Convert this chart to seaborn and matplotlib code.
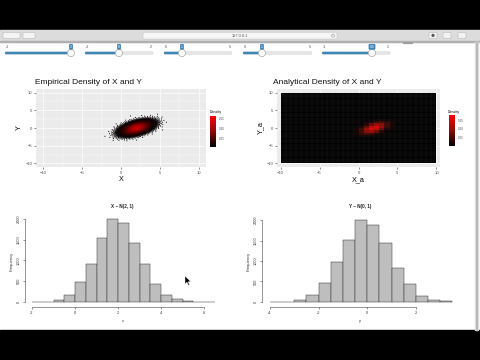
import numpy as np
import pandas as pd
import matplotlib
matplotlib.use("Agg")
import matplotlib.pyplot as plt
import seaborn as sns
from matplotlib.colors import LinearSegmentedColormap, Normalize
from matplotlib.patches import Rectangle, Circle, FancyBboxPatch, Polygon
import matplotlib.cm as cm

plt.rcParams['font.family'] = ['Liberation Sans', 'DejaVu Sans']

# ---------------- data ----------------
mu_x, mu_y = 2.0, 0.0
sd_x, sd_y = 1.0, 1.0
rho = 0.5
n_samples = 10000

axis_ticks = [-10, -5, 0, 5, 10]
density_ticks = [0.05, 0.10, 0.15]
density_labels = ["0.05", "0.10", "0.15"]

# histogram of X (bin width 0.5)
hist_x_edges = [-2.0, -1.5, -1.0, -0.5, 0.0, 0.5, 1.0, 1.5, 2.0, 2.5, 3.0,
                3.5, 4.0, 4.5, 5.0, 5.5, 6.0, 6.5]
hist_x_counts = [2, 6, 60, 180, 470, 925, 1545, 1995, 1910, 1410, 905,
                 425, 160, 64, 24, 8, 2]
hist_x_ticks = [-2, 0, 2, 4, 6]

# histogram of Y (bin width 0.5)
hist_y_edges = [-4.0, -3.5, -3.0, -2.5, -2.0, -1.5, -1.0, -0.5, 0.0, 0.5,
                1.0, 1.5, 2.0, 2.5, 3.0, 3.5]
hist_y_counts = [2, 12, 56, 176, 456, 976, 1512, 1992, 1880, 1440, 832,
                 440, 152, 56, 20]
hist_y_ticks = [-4, -2, 0, 2]
freq_ticks = [0, 500, 1000, 1500, 2000]

# slider labels
slider_min = ["-2", "-2", "0", "0", "-1"]
slider_val = ["2", "0", "1", "1", "0.5"]
slider_max = ["", "2", "5", "5", "1"]

# ---------------- helpers ----------------
W, H = 480, 360


def px(x0, y0, x1, y1):
    return [x0 / W, 1 - y1 / H, (x1 - x0) / W, (y1 - y0) / H]


def binorm(x, y):
    zx = (x - mu_x) / sd_x
    zy = (y - mu_y) / sd_y
    q = (zx ** 2 - 2 * rho * zx * zy + zy ** 2) / (1 - rho ** 2)
    return np.exp(-q / 2) / (2 * np.pi * sd_x * sd_y * np.sqrt(1 - rho ** 2))


cmap = LinearSegmentedColormap.from_list("blackred", ["#000000", "#8a0c05", "#ff0000"])
cmap_pts = LinearSegmentedColormap.from_list("blackred2", ["#000000", "#ff0000"])

fig = plt.figure(figsize=(4.8, 3.6), dpi=100)
fig.patch.set_facecolor("white")

# ---------------- browser chrome ----------------
bg = fig.add_axes([0, 0, 1, 1], zorder=-10)
bg.set_xlim(0, W)
bg.set_ylim(H, 0)
bg.axis("off")
bg.add_patch(Rectangle((0, 0), W, 30, color="black"))
bg.add_patch(Rectangle((0, 330), W, 30, color="black"))
bg.add_patch(Rectangle((0, 30), W, 11.5, color="#dcdcdc"))
bg.add_patch(Rectangle((0, 41.3), W, 0.5, color="#b0b0b0"))
for (a, b) in [(3, 20), (23, 35)]:
    bg.add_patch(FancyBboxPatch((a, 32.3), b - a, 6.2, boxstyle="round,pad=0,rounding_size=1",
                                fc="#f5f5f5", ec="#b8b8b8", lw=0.4))
bg.add_patch(FancyBboxPatch((143, 32.2), 194, 6.8, boxstyle="round,pad=0,rounding_size=1.2",
                            fc="#f6f6f6", ec="#c4c4c4", lw=0.4))
bg.text(240, 35.7, "127.0.0.1", fontsize=2.8, color="#555555", ha="center", va="center")
bg.add_patch(Circle((333, 35.6), 1.5, fc="none", ec="#888888", lw=0.4))
for cx in [433, 447, 462]:
    bg.add_patch(FancyBboxPatch((cx - 4, 32.3), 8, 6.2, boxstyle="round,pad=0,rounding_size=1",
                                fc="#f2f2f2", ec="#b8b8b8", lw=0.4))
bg.add_patch(Circle((433, 35.4), 1.6, fc="#555555", ec="none"))
bg.add_patch(Rectangle((474.5, 42), 3.5, 288, color="#e4e4e4"))
bg.add_patch(Rectangle((476, 42), 1.2, 288, color="#b9b9b9"))
bg.add_patch(FancyBboxPatch((403, 42.3), 10, 1.8, boxstyle="round,pad=0,rounding_size=0.8",
                            fc="#9a9a9a", ec="none"))

# sliders
tracks = [(5, 71), (85, 153), (164, 232), (243, 312), (322, 390)]
handles = [71, 119, 182, 262, 372]
for (x0, x1), hx, lo, val, hi in zip(tracks, handles, slider_min, slider_val, slider_max):
    bg.add_patch(FancyBboxPatch((x0, 51.8), x1 - x0, 2.4, boxstyle="round,pad=0,rounding_size=1",
                                fc="#e6e6e6", ec="#cfcfcf", lw=0.3))
    bg.add_patch(FancyBboxPatch((x0, 51.8), hx - x0, 2.4, boxstyle="round,pad=0,rounding_size=1",
                                fc="#3f85b8", ec="none"))
    bg.add_patch(Circle((hx, 53), 3.6, fc="#fbfbfb", ec="#a9a9a9", lw=0.5))
    bg.text(x0 + 1, 46.8, lo, fontsize=2.6, color="#444444", ha="left", va="center")
    if hi:
        bg.text(x1 - 1, 46.8, hi, fontsize=2.6, color="#444444", ha="right", va="center")
    bg.text(hx, 46.8, val, fontsize=2.6, color="white", ha="center", va="center",
            bbox=dict(boxstyle="round,pad=0.25,rounding_size=0.3", fc="#3f85b8", ec="none"))

TICKC = "#4d4d4d"


def gg_axes(ax, xl, yl, xlabel, ylabel, title, title_x):
    ax.set_facecolor("#ebebeb")
    ax.set_xlim(*xl)
    ax.set_ylim(*yl)
    ax.set_xticks(axis_ticks)
    ax.set_yticks(axis_ticks)
    ax.set_xticks([-7.5, -2.5, 2.5, 7.5], minor=True)
    ax.set_yticks([-7.5, -2.5, 2.5, 7.5], minor=True)
    ax.grid(True, which="major", color="white", lw=0.5)
    ax.grid(True, which="minor", color="white", lw=0.25)
    ax.set_axisbelow(True)
    for s in ax.spines.values():
        s.set_visible(False)
    ax.tick_params(which="major", length=1.5, width=0.4, color="#333333",
                   labelsize=3.0, labelcolor=TICKC, pad=1.2)
    ax.tick_params(which="minor", length=0)
    ax.set_xlabel(xlabel, fontsize=5.2, labelpad=1.0)
    ax.set_ylabel(ylabel, fontsize=5.2, labelpad=1.5)
    fig.text(title_x / W, 1 - 83 / H, title, fontsize=6, ha="left", va="center", color="#111111")


# ---------------- empirical density scatter ----------------
ax1 = fig.add_axes(px(36, 89, 206, 167))
gg_axes(ax1, (-10.9, 10.9), (-11, 11), "X", "Y", "Empirical Density of X and Y", 35)

idx = np.arange(n_samples)
u = (idx + 0.5) / n_samples
r = np.sqrt(-2 * np.log(1 - u))
theta = idx * np.pi * (3 - np.sqrt(5))
z1 = r * np.cos(theta)
z2 = r * np.sin(theta)
sx = mu_x + sd_x * z1
sy = mu_y + sd_y * (rho * z1 + np.sqrt(1 - rho ** 2) * z2)
dens = binorm(sx, sy)
df = pd.DataFrame({"X": sx, "Y": sy, "Density": dens}).sort_values("Density")
norm1 = Normalize(0.006, 0.162)
norm_pts = Normalize(0.0, 0.24)
sns.scatterplot(data=df, x="X", y="Y", hue="Density", palette=cmap_pts, hue_norm=norm_pts,
                s=0.6, linewidth=0, legend=False, ax=ax1)
ax1.set_xlabel("X", fontsize=5.2, labelpad=1.0)
ax1.set_ylabel("Y", fontsize=5.2, labelpad=1.5)

cax1 = fig.add_axes(px(210, 116, 216, 147))
cb1 = fig.colorbar(cm.ScalarMappable(norm=norm1, cmap=cmap), cax=cax1)
cb1.set_ticks(density_ticks)
cb1.set_ticklabels(density_labels)
cb1.outline.set_visible(False)
cax1.tick_params(length=1.0, width=0.3, color="white", labelsize=2.2, labelcolor=TICKC, pad=0.8)
fig.text(209.5 / W, 1 - 112.5 / H, "Density", fontsize=2.6, ha="left", va="center")

# ---------------- analytical density tiles ----------------
xl2 = (-10.45, 10.45)
yl2 = (-11, 11)
ax2 = fig.add_axes(px(277, 89, 440, 167))
gg_axes(ax2, xl2, yl2, "X_a", "Y_a", "Analytical Density of X and Y", 273)

n_cells = 30
step = 20.0 / n_cells
gx = np.linspace(-10 + step / 2, 10 - step / 2, n_cells)
gy = gx[::-1]
GX, GY = np.meshgrid(gx, gy)
Z = pd.DataFrame(binorm(GX, GY), index=np.round(gy, 2), columns=np.round(gx, 2))

x_left = 277 + (-10 - xl2[0]) / (xl2[1] - xl2[0]) * 163
x_right = 277 + (10 - xl2[0]) / (xl2[1] - xl2[0]) * 163
y_top = 89 + (yl2[1] - 10) / (yl2[1] - yl2[0]) * 78
y_bot = 89 + (yl2[1] + 10) / (yl2[1] - yl2[0]) * 78
axh = fig.add_axes(px(x_left, y_top, x_right, y_bot))
cax2 = fig.add_axes(px(449, 115, 455, 146))
sns.heatmap(Z, ax=axh, cmap=cmap, vmin=0, vmax=0.18,
            linewidths=0, xticklabels=False, yticklabels=False,
            cbar=True, cbar_ax=cax2)
axh.hlines(np.arange(1, n_cells), 0, n_cells, color="#3a3a3a", lw=0.25, alpha=0.7)
axh.vlines(np.arange(1, n_cells), 0, n_cells, color="#3a3a3a", lw=0.25, alpha=0.5)
axh.set_xlabel("")
axh.set_ylabel("")
cb2 = axh.collections[0].colorbar
cb2.set_ticks(density_ticks)
cb2.set_ticklabels(density_labels)
cb2.outline.set_visible(False)
cax2.tick_params(length=1.0, width=0.3, color="white", labelsize=2.2, labelcolor=TICKC, pad=0.8)
fig.text(448 / W, 1 - 112 / H, "Density", fontsize=2.6, ha="left", va="center")


# ---------------- histograms (base R style) ----------------
def base_hist(rect, edges, counts, xlim, ylim, xticks, title, xlabel, title_x):
    ax = fig.add_axes(px(*rect))
    e = np.array(edges, dtype=float)
    hdf = pd.DataFrame({"value": (e[:-1] + e[1:]) / 2, "count": np.array(counts, dtype=float)})
    sns.histplot(data=hdf, x="value", weights="count", bins=list(edges), stat="count",
                 color="#bebebe", edgecolor="#333333", linewidth=0.35, alpha=1, ax=ax)
    ax.set_xlim(*xlim)
    ax.set_ylim(*ylim)
    ax.set_facecolor("none")
    for s in ["top", "right"]:
        ax.spines[s].set_visible(False)
    ax.spines["left"].set_bounds(freq_ticks[0], freq_ticks[-1])
    ax.spines["bottom"].set_bounds(xticks[0], xticks[-1])
    for s in ["left", "bottom"]:
        ax.spines[s].set_linewidth(0.4)
        ax.spines[s].set_color("#444444")
    ax.set_xticks(xticks)
    ax.set_yticks(freq_ticks)
    ax.set_xticklabels([str(t) for t in xticks])
    ax.set_yticklabels([str(t) for t in freq_ticks], rotation=90, va="center")
    ax.tick_params(length=1.6, width=0.4, color="#444444", labelsize=2.8,
                   labelcolor="#333333", pad=1.2)
    ax.set_xlabel(xlabel, fontsize=3.0, labelpad=3.0, color="#333333")
    ax.set_ylabel("Frequency", fontsize=3.0, labelpad=2.5, color="#333333")
    fig.text(title_x / W, 1 - 207 / H, title, fontsize=3.3, fontweight="bold",
             ha="center", va="center", color="#222222")
    return ax


base_hist((25, 215, 222, 307), hist_x_edges, hist_x_counts, (-2.326, 6.837), (-120.5, 2096),
          hist_x_ticks, "X ~ N(2, 1)", "x", 122)
base_hist((262, 215, 458, 307), hist_y_edges, hist_y_counts, (-4.329, 3.727), (-122, 2122),
          hist_y_ticks, "Y ~ N(0, 1)", "y", 360)

# mouse cursor
top = fig.add_axes([0, 0, 1, 1], zorder=20)
top.set_xlim(0, W)
top.set_ylim(H, 0)
top.axis("off")
top.add_patch(Polygon([(185, 276), (185, 284), (187, 282.2), (188.4, 285.3), (189.5, 284.8),
                       (188.2, 281.8), (190.8, 281.6)], closed=True, fc="black", ec="white", lw=0.3))

fig.savefig("out.png", dpi=100)
